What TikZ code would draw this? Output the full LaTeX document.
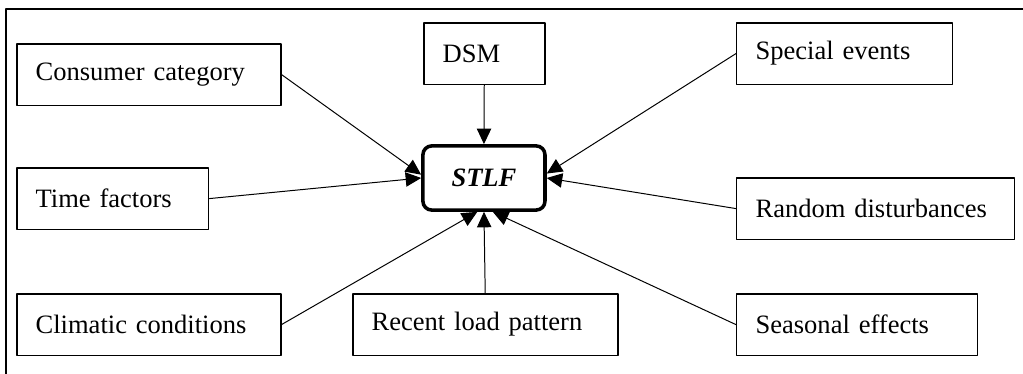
\documentclass[tikz,border=0pt]{standalone}
\usepackage{fontspec}
\setmainfont{Liberation Serif}
\usepackage{tikz}
\usetikzlibrary{arrows.meta}
\tikzset{>={Triangle[length=7pt,width=6.5pt]}}

\begin{document}
\begin{tikzpicture}[line cap=round,line join=round,
    factor/.style={draw, line width=0.7pt, anchor=north west, align=left,
        inner xsep=0.3cm, minimum height=0.98cm, text width=#1,
        font=\fontsize{12}{14}\selectfont},
    target/.style={draw, line width=1.6pt, rounded corners=4pt,
        minimum width=1.94cm, minimum height=1.02cm,
        font=\fontsize{12}{14}\selectfont\bfseries\itshape},
    link/.style={->, line width=0.45pt}]
			\useasboundingbox (0,0) rectangle (16.26,5.944);
			% outer frame
			\draw[line width=0.9pt] (0.095,0) -- (0.095,5.801) -- (16.26,5.801);
			% load forecast in the middle
			\node[target] (stlf) at (7.692,3.115) {STLF};
			% influencing factors
			\node[factor=3.596cm] (cons) at (0.254,5.261) {Consumer category};
			\node[factor=2.451cm] (time) at (0.254,3.290) {Time factors};
			\node[factor=3.596cm] (clim) at (0.254,1.287) {Climatic conditions};
			\node[factor=1.323cm] (dsm) at (6.723,5.594) {DSM};
			\node[factor=3.612cm] (recent) at (5.594,1.287) {Recent load pattern};
			\node[factor=2.833cm] (special) at (11.697,5.594) {Special events};
			\node[factor=3.818cm] (random) at (11.697,3.131) {Random disturbances};
			\node[factor=3.230cm] (season) at (11.697,1.287) {Seasonal effects};
			% arrows into STLF
			\draw[link] (cons.east) -- ([yshift=1.5pt]stlf.west);
			\draw[link] (time.east) -- (stlf.west);
			\draw[link] (clim.east) -- ([xshift=-3pt]stlf.south);
			\draw[link] (dsm.south) -- (stlf.north);
			\draw[link] (recent.north) -- (stlf.south);
			\draw[link] (special.west) -- ([yshift=2pt]stlf.east);
			\draw[link] (random.west) -- (stlf.east);
			\draw[link] (season.west) -- ([xshift=4pt]stlf.south);
		\end{tikzpicture}
\end{document}
